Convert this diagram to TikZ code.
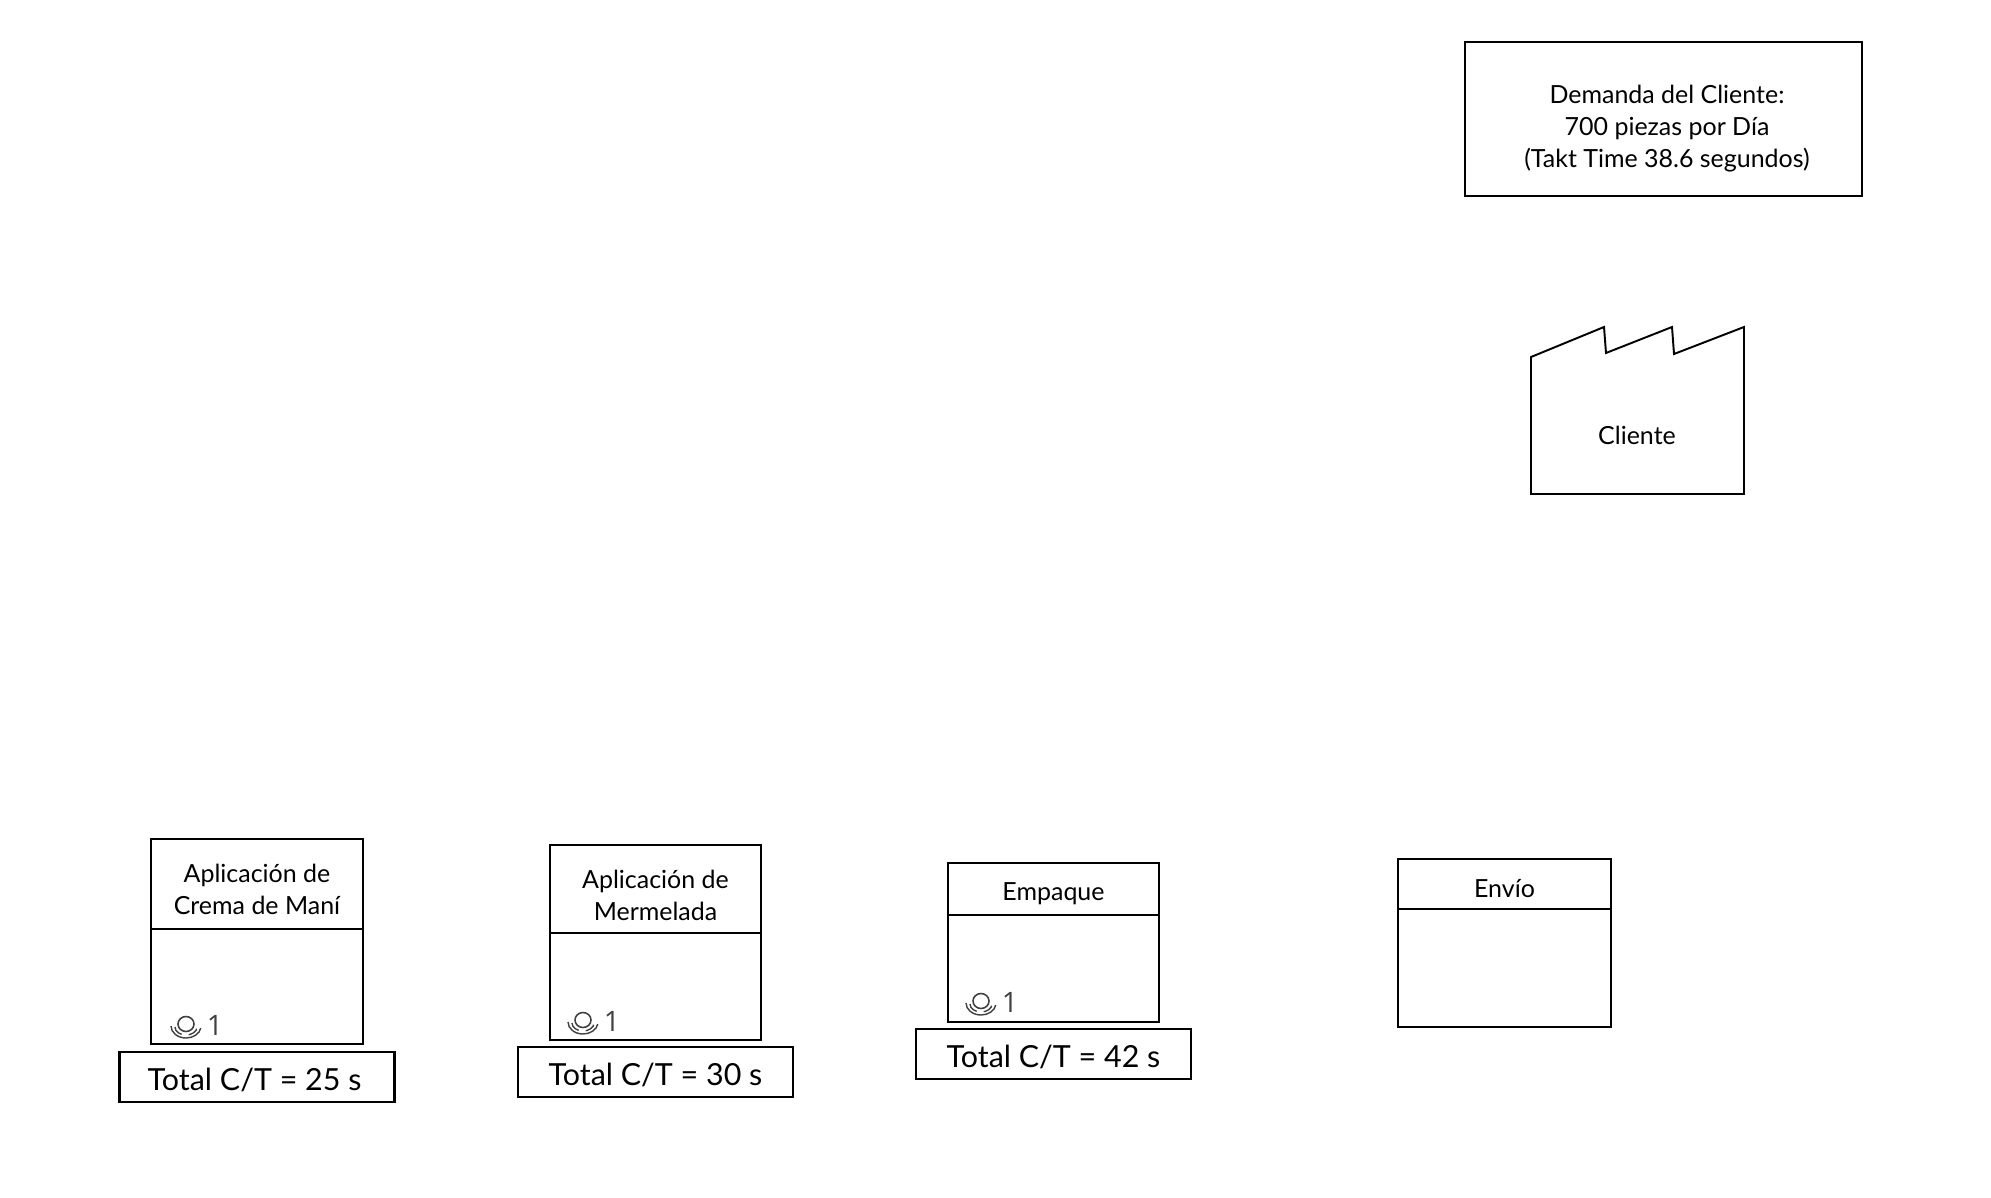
\documentclass[tikz,border=0pt]{standalone}
\usepackage{fontspec}
\setmainfont{Lato}
\newfontfamily\digitfont{Open Sans}
\usetikzlibrary{positioning}
\tikzset{%
    headbox/.style={draw, line width=0.65pt, inner sep=0pt},
    bodybox/.style={draw, line width=0.65pt, inner sep=0pt},
    ctbox/.style={draw, line width=0.65pt, inner sep=0pt, minimum width=2.75cm, minimum height=0.5cm, text height=8pt, text depth=0.5pt, font=\fontsize{8.65}{11}\selectfont},
    plaintext/.style={inner sep=0pt, align=center, font=\fontsize{7.1}{9.1}\selectfont},
    operador/.pic={
        \draw[line width=0.45pt,black!75] (0,-2) ellipse (8 and 7.5);
        \draw[line width=0.4pt,black!75,densely dashed] (-11,1) arc[start angle=180,end angle=0,x radius=11,y radius=8];
        \draw[line width=0.4pt,black!75] (-15,0) arc[start angle=180,end angle=10,x radius=15,y radius=12];
        \node[inner sep=0pt,text=black!75,font=\digitfont\fontsize{8}{9}\selectfont] (-num) at (29,-1) {1};
    }
}
\begin{document}
\begin{tikzpicture}[x=0.01cm,y=-0.01cm]
    \useasboundingbox (0,0) rectangle (1991,1197);

    % cliente
    \node[draw, line width=0.65pt, minimum width=3.97cm, minimum height=1.54cm] (demanda) at (1663.5,119) {};
    \node[plaintext] (demandatext) at (1667,129) {Demanda del Cliente:\\700 piezas por Día\\(Takt Time 38.6 segundos)};
    \draw[line width=0.55pt,line join=miter] (1531,494) -- (1531,357) -- (1604,327) -- (1606,353) -- (1672,327) -- (1674,354) -- (1744,327) -- (1744,494) -- cycle;
    \node[plaintext] (cliente) at (1637,435) {Cliente};

    % procesos
    \node[headbox, minimum width=2.12cm, minimum height=0.9cm] (crema) at (257,884) {};
    \node[plaintext] (crematext) at (257,889) {Aplicación de\\Crema de Maní};
    \node[bodybox, minimum width=2.12cm, minimum height=1.15cm, below=-0.65pt of crema] (cremabody) {};
    \node[ctbox, below=0.055cm of cremabody] (cremact) {Total C/T = 25 s\hspace*{1.4pt}};
    \pic (cremaop) at (186,1026) {operador};

    \node[headbox, minimum width=2.11cm, minimum height=0.88cm] (mermelada) at (655.5,889) {};
    \node[plaintext] (mermeladatext) at (655.5,895) {Aplicación de\\Mermelada};
    \node[bodybox, minimum width=2.11cm, minimum height=1.07cm, below=-0.65pt of mermelada] (mermeladabody) {};
    \node[ctbox, below=0.045cm of mermeladabody] (mermeladact) {Total C/T = 30 s};
    \pic (mermeladaop) at (583,1022) {operador};

    \node[headbox, minimum width=2.11cm, minimum height=0.52cm] (empaque) at (1053.5,889) {};
    \node[plaintext] (empaquetext) at (1053.5,894) {Empaque};
    \node[bodybox, minimum width=2.11cm, minimum height=1.07cm, below=-0.65pt of empaque] (empaquebody) {};
    \node[ctbox, below=0.045cm of empaquebody] (empaquect) {Total C/T = 42 s};
    \pic (empaqueop) at (981,1003) {operador};

    \node[headbox, minimum width=2.13cm, minimum height=0.5cm] (envio) at (1504.5,884) {};
    \node[plaintext] (enviotext) at (1504.5,889) {Envío};
    \node[bodybox, minimum width=2.13cm, minimum height=1.18cm, below=-0.65pt of envio] (enviobody) {};
\end{tikzpicture}
\end{document}
